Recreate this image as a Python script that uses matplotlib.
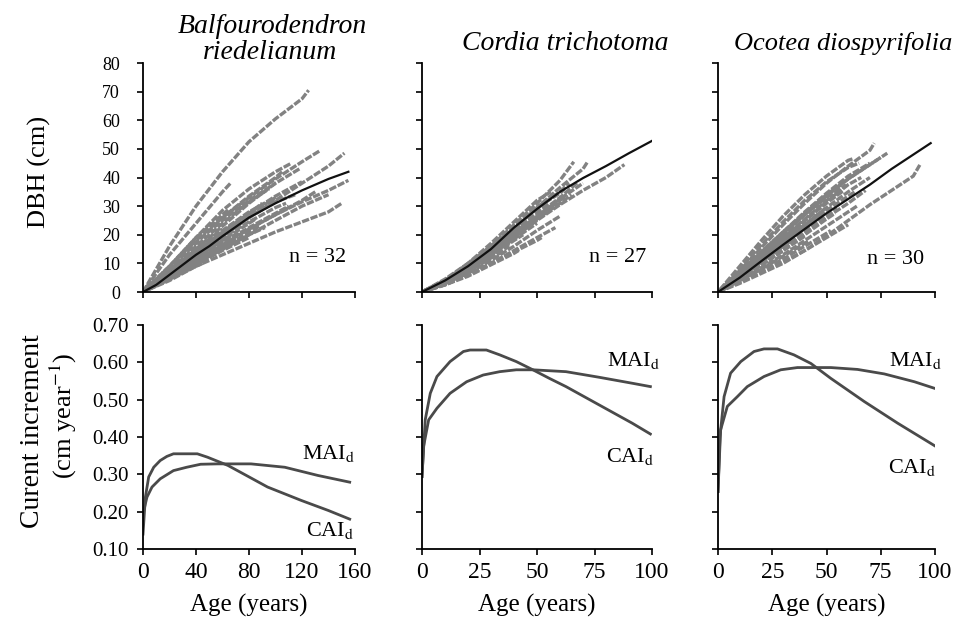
import matplotlib
matplotlib.use("Agg")
import matplotlib.pyplot as plt
import numpy as np

plt.rcParams['font.family'] = ['Liberation Serif', 'DejaVu Serif']
plt.rcParams['mathtext.fontset'] = 'stix'

species = ["Balfourodendron", "riedelianum", "Cordia trichotoma", "Ocotea diospyrifolia"]
n_trees = [32, 27, 30]

# --- DBH of single trees: value at every grid age below the end age, then at the end age
grid_b = [0, 20, 40, 60, 80, 100, 120, 140, 160]
end_b = [125, 66, 134, 152, 155, 150, 112, 105, 118, 95, 100, 90, 85,
         110, 75, 60, 70, 130, 50, 45, 80, 120, 100, 65, 88, 140,
         115, 98, 72, 108, 92, 55]
dbh_b = [
    [0, 16, 30, 42, 52.5, 60.5, 67.5, 70.5],
    [0, 13, 24, 35, 38],
    [0, 9, 18, 26, 33, 39.5, 45.5, 49.5],
    [0, 6.5, 13, 19.5, 26, 32, 38, 44, 48.5],
    [0, 6, 11.5, 17, 22, 27, 31.5, 35.5, 39],
    [0, 4.5, 9, 13, 17, 21, 24.5, 28, 31],
    [0, 9, 19, 28.5, 36, 42, 45],
    [0, 8, 17, 26, 33.5, 40, 42],
    [0, 7, 15, 23, 31, 38, 43],
    [0, 7.5, 16, 24, 31.5, 36],
    [0, 6, 13, 20, 27, 33],
    [0, 6.5, 14, 21, 27.5, 31],
    [0, 5.5, 12, 18, 24, 25.5],
    [0, 5, 11, 17, 22.5, 27.5, 30],
    [0, 6, 12.5, 19, 23.5],
    [0, 7, 15, 22],
    [0, 5, 10.5, 16, 18.5],
    [0, 5.5, 11, 16.5, 22, 27, 32, 35],
    [0, 6, 12, 15],
    [0, 4, 9, 10],
    [0, 4.5, 9.5, 14.5, 19],
    [0, 7, 14, 21, 27.5, 33.5, 38.5],
    [0, 8.5, 17.5, 25, 32, 38],
    [0, 9, 19, 27, 29],
    [0, 5, 10, 15.5, 21, 23],
    [0, 5, 10, 15, 20, 25, 30, 34],
    [0, 6, 13.5, 20, 26, 31.5, 34],
    [0, 7, 14.5, 21.5, 28, 32.5],
    [0, 5.5, 12, 18, 20.5],
    [0, 6.5, 13, 19, 24.5, 29.5, 31],
    [0, 4.5, 10, 15, 20, 22.5],
    [0, 5.5, 11.5, 15.5],
]

grid_c = [0, 10, 20, 30, 40, 50, 60, 70, 80, 90, 100]
end_c = [66, 72, 88, 64, 60, 55, 58, 50, 45, 52, 40, 35, 62, 70, 48, 30, 56, 68, 42, 57,
         63, 47, 60, 38, 54, 65, 44]
dbh_c = [
    [0, 4, 9.5, 16, 23.5, 31, 39, 45.5],
    [0, 3.5, 8.5, 15, 22, 29.5, 36.5, 43, 45.5],
    [0, 3, 7.5, 13, 19, 25, 30.5, 35.5, 40, 44.5],
    [0, 4, 9.5, 16, 23, 29.5, 35, 38],
    [0, 3.5, 8, 13.5, 19.5, 26, 31],
    [0, 4, 9, 15, 21.5, 28, 31],
    [0, 2.5, 6, 10, 14.5, 19, 22.5],
    [0, 3.5, 8, 13, 18.5, 24],
    [0, 4.5, 10, 16, 22, 25],
    [0, 2.5, 6, 10, 14, 18, 19],
    [0, 3.5, 8.5, 14, 19.5],
    [0, 3, 7, 12, 14],
    [0, 3.5, 9, 15.5, 22.5, 29.5, 34.5, 36],
    [0, 3, 8, 14, 20, 26.5, 32.5, 38],
    [0, 4, 9, 14.5, 20.5, 26],
    [0, 3.5, 8, 12],
    [0, 4, 10, 17, 24.5, 32, 35],
    [0, 3.5, 8.5, 14, 20.5, 27, 33, 38.5],
    [0, 2.5, 5.5, 9.5, 13.5, 14.5],
    [0, 3, 7.5, 13, 19, 25.5, 29.5],
    [0, 3, 7.5, 13, 19.5, 26, 32, 34],
    [0, 3.5, 8.5, 14.5, 21, 24.5],
    [0, 3, 6.5, 11, 16, 21.5, 26.5],
    [0, 3, 7, 12, 16],
    [0, 4, 9, 15.5, 22.5, 29.5, 32],
    [0, 3.5, 8, 13.5, 19.5, 25.5, 31, 34],
    [0, 3, 7, 12.5, 18, 20],
]

grid_o = [0, 10, 20, 30, 40, 50, 60, 70, 80, 90, 100]
end_o = [72, 78, 62, 93, 68, 65, 58, 55, 50, 45, 40, 35, 60, 70, 75, 52, 30, 48, 66, 42,
         57, 63, 47, 38, 70, 54, 44, 59, 33, 64]
dbh_o = [
    [0, 7.5, 15.5, 23.5, 31, 38, 44, 49.5, 52],
    [0, 6.5, 13.5, 20.5, 27.5, 34, 39.5, 44.5, 48.5],
    [0, 9, 18, 26.5, 34, 40.5, 46, 46.5],
    [0, 3, 6.5, 10, 14.5, 19.5, 25, 30.5, 35.5, 40.5, 44.4],
    [0, 4.5, 9.5, 15, 20.5, 26, 31, 35.5],
    [0, 8, 16.5, 24.5, 32, 38.5, 43.5, 45],
    [0, 6, 12, 18.5, 25, 31, 35.5],
    [0, 5, 10, 15.5, 21, 26.5, 29],
    [0, 5.5, 11.5, 17.5, 23.5, 29.5],
    [0, 6, 12.5, 19, 25, 28],
    [0, 4.5, 9.5, 14.5, 19.5],
    [0, 5, 10.5, 16, 18.5],
    [0, 3.5, 7, 10.5, 14.5, 19, 23.5],
    [0, 5.5, 11.5, 17.5, 23.5, 29.5, 35, 40],
    [0, 6.5, 13, 20, 27, 33.5, 39.5, 44.5, 47],
    [0, 3.5, 7.5, 11.5, 16, 20.5, 21.5],
    [0, 5, 10.5, 15],
    [0, 7, 14, 21, 27.5, 32.5],
    [0, 5.5, 12, 18.5, 25, 31.5, 37.5, 40],
    [0, 4, 8, 12.5, 17, 18],
    [0, 6, 12.5, 19, 25.5, 32, 35.5],
    [0, 5, 11, 17, 23, 28.5, 33.5, 35],
    [0, 5, 10.5, 16.5, 22.5, 26.5],
    [0, 6, 12, 18.5, 23],
    [0, 7, 14, 21, 28, 34.5, 40.5, 45],
    [0, 4.5, 9.5, 14.5, 20, 25.5, 27.5],
    [0, 5.5, 11, 17, 23, 25],
    [0, 6.5, 13.5, 20.5, 27, 33, 37.5],
    [0, 4.5, 9.5, 14.5, 16],
    [0, 4, 8.5, 13, 18, 23, 28, 30],
]

# mean DBH curves
mean_age_b = [0, 10, 20, 30, 40, 50, 60, 80, 100, 120, 140, 155]
mean_dbh_b = [0, 2.5, 6, 9.5, 13, 16, 19.5, 26, 31, 35.5, 39.5, 42]
mean_age_c = [0, 10, 20, 30, 40, 50, 60, 70, 80, 90, 100]
mean_dbh_c = [0, 4, 9, 15, 22.5, 29, 35, 39.8, 44, 48.5, 52.8]
mean_age_o = [0, 10, 20, 30, 40, 50, 60, 70, 80, 90, 98]
mean_dbh_o = [0, 5, 10.8, 16.5, 22, 27.5, 32.5, 37.5, 43, 48, 52]

# increments (cm/year)
cai_age_b = [0, 1.8, 4.3, 8.1, 13, 18, 23, 41, 48.6, 64, 78, 94, 119.5, 140, 156]
cai_b = [0.14, 0.239, 0.293, 0.319, 0.337, 0.348, 0.355, 0.355, 0.346, 0.324, 0.297,
         0.266, 0.23, 0.203, 0.18]
mai_age_b = [0, 3, 6.8, 13, 23, 33, 43.5, 56, 81.5, 107, 132, 156]
mai_b = [0.194, 0.239, 0.266, 0.288, 0.31, 0.319, 0.327, 0.328, 0.328, 0.319, 0.297, 0.279]

cai_age_c = [0, 1.4, 3.6, 6.5, 12.2, 18, 20.9, 28, 33.8, 41, 48.2, 55.4, 62.6, 77, 91.4, 99.3]
cai_c = [0.294, 0.446, 0.517, 0.562, 0.602, 0.629, 0.633, 0.633, 0.62, 0.602, 0.58,
         0.557, 0.535, 0.486, 0.437, 0.408]
mai_age_c = [0, 0.7, 2.9, 6.5, 12.2, 19.4, 26.6, 33.8, 41, 48.2, 62.6, 77, 91.4, 99.3]
mai_c = [0.294, 0.375, 0.446, 0.477, 0.517, 0.548, 0.566, 0.575, 0.58, 0.58, 0.575,
         0.56, 0.544, 0.535]

cai_age_o = [0, 0.9, 2.8, 5.8, 10.5, 16.6, 21.2, 27.4, 35, 42.8, 52, 67.4, 82.8, 100]
cai_o = [0.254, 0.4, 0.508, 0.571, 0.602, 0.629, 0.636, 0.636, 0.62, 0.597, 0.557,
         0.495, 0.437, 0.376]
mai_age_o = [0, 1.2, 4.3, 8.9, 13.5, 21.2, 28.9, 36.6, 52, 64.3, 76.6, 90.5, 100]
mai_o = [0.254, 0.419, 0.482, 0.508, 0.535, 0.562, 0.58, 0.586, 0.586, 0.581, 0.569,
         0.548, 0.53]

W, H = 957, 625
fig = plt.figure(figsize=(W / 100, H / 100), dpi=100)

# axes extents in pixels (left, right)
xpix = [(143, 355), (422, 652), (718, 935)]
top_y = (63, 292)
bot_y = (325, 549)

trees = [(grid_b, end_b, dbh_b), (grid_c, end_c, dbh_c), (grid_o, end_o, dbh_o)]
means = [(mean_age_b, mean_dbh_b), (mean_age_c, mean_dbh_c), (mean_age_o, mean_dbh_o)]
incs = [(cai_age_b, cai_b, mai_age_b, mai_b),
        (cai_age_c, cai_c, mai_age_c, mai_c),
        (cai_age_o, cai_o, mai_age_o, mai_o)]
xmax = [160, 100, 100]
xticks = [[0, 40, 80, 120, 160], [0, 25, 50, 75, 100], [0, 25, 50, 75, 100]]
n_pos = [(132, 12), (85, 12), (82, 11.5)]
mai_pos = [(140, 0.355), (92, 0.606), (91, 0.604)]
cai_pos = [(141, 0.15), (90.5, 0.349), (89.5, 0.317)]


def box(xp, yp):
    return [xp[0] / W, 1 - yp[1] / H, (xp[1] - xp[0]) / W, (yp[1] - yp[0]) / H]


def style(ax):
    for s in ['top', 'right']:
        ax.spines[s].set_visible(False)
    for s in ['left', 'bottom']:
        ax.spines[s].set_linewidth(1.3)
    ax.tick_params(direction='out', length=4.5, width=1.2)


for i in range(3):
    # top row: DBH
    ax = fig.add_axes(box(xpix[i], top_y))
    grid, ends, vals = trees[i]
    for k, (e, v) in enumerate(zip(ends, vals)):
        x = [a for a in grid if a < e] + [e]
        # shift dash phase per tree so gaps don't line up into stripes
        ax.plot(x[:len(v)], v[:len(x)], color='#828282', lw=2.4,
                linestyle=((k * 0.9) % 2.7, (2.2, 0.5)))
    ax.plot(means[i][0], means[i][1], color='#111111', lw=1.6)
    ax.set_xlim(0, xmax[i])
    ax.set_ylim(0, 80)
    ax.set_xticks(xticks[i])
    ax.set_yticks(range(0, 81, 10))
    style(ax)
    ax.tick_params(labelbottom=False, labelsize=13)
    ax.tick_params(axis='y', pad=12)
    if i > 0:
        ax.tick_params(labelleft=False)
    ax.text(n_pos[i][0], n_pos[i][1], "n = %d" % n_trees[i], ha='center',
            va='center', fontsize=16)

    # bottom row: increments
    ax2 = fig.add_axes(box(xpix[i], bot_y))
    ca, cv, ma, mv = incs[i]
    ax2.plot(ca, cv, color='#4a4a4a', lw=2)
    ax2.plot(ma, mv, color='#4a4a4a', lw=2)
    ax2.set_xlim(0, xmax[i])
    ax2.set_ylim(0.10, 0.70)
    ax2.set_xticks(xticks[i])
    ax2.set_yticks(np.arange(0.1, 0.71, 0.1))
    ax2.yaxis.set_major_formatter(plt.FormatStrFormatter('%.2f'))
    style(ax2)
    ax2.tick_params(axis='y', labelsize=15, pad=6)
    ax2.tick_params(axis='x', labelsize=17, pad=5)
    if i > 0:
        ax2.tick_params(labelleft=False)
    ax2.set_xlabel("Age (years)", fontsize=18, labelpad=8)
    ax2.text(mai_pos[i][0], mai_pos[i][1], r"MAI$_{\mathrm{d}}$", ha='center',
             va='center', fontsize=16)
    ax2.text(cai_pos[i][0], cai_pos[i][1], r"CAI$_{\mathrm{d}}$", ha='center',
             va='center', fontsize=16)

# titles
fig.text(272 / W, 1 - 33 / H, species[0], ha='center', va='baseline', fontsize=20, style='italic')
fig.text(270 / W, 1 - 59 / H, species[1], ha='center', va='baseline', fontsize=20, style='italic')
fig.text(565 / W, 1 - 50 / H, species[2], ha='center', va='baseline', fontsize=20, style='italic')
fig.text(734 / W, 1 - 50 / H, species[3], ha='left', va='baseline', fontsize=19, style='italic')

# y labels
fig.text(39 / W, 1 - 172 / H, "DBH (cm)", rotation=90, ha='center', va='center', fontsize=19)
fig.text(33 / W, 1 - 431 / H, "Curent increment", rotation=90, ha='center', va='center',
         fontsize=20)
fig.text(63 / W, 1 - 416 / H, r"(cm year$^{-1}$)", rotation=90, ha='center', va='center',
         fontsize=19)

fig.savefig("out.png", dpi=100)
